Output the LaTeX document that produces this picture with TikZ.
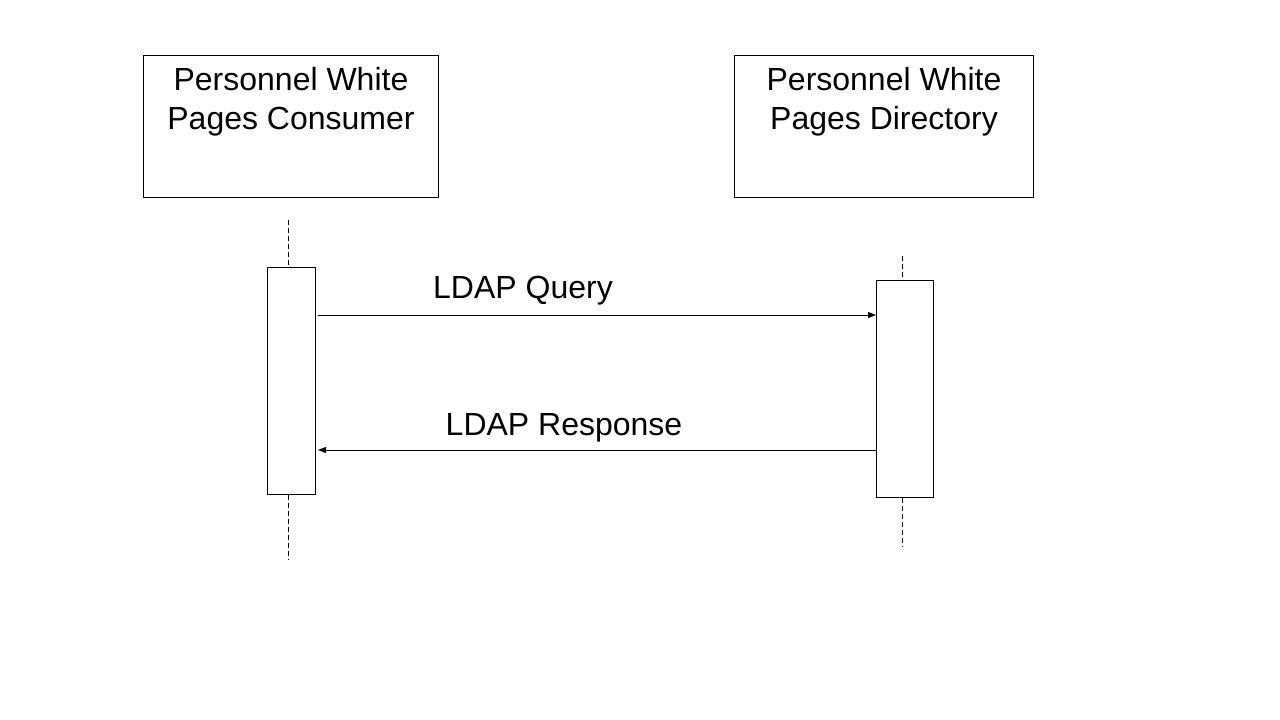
\documentclass[tikz,border=0pt]{standalone}
\usepackage{fontspec}
\setmainfont{Liberation Sans}
\usetikzlibrary{arrows.meta}
\begin{document}
\begin{tikzpicture}[x=1pt,y=-1pt,
  actor/.style={draw,line width=1pt,minimum width=#1,minimum height=142pt,anchor=north west,inner sep=0pt},
  activation/.style={draw,line width=1pt,anchor=north west,inner sep=0pt},
  title/.style={font=\fontsize{32}{39}\selectfont,align=center,anchor=north,inner sep=0pt},
  lifeline/.style={line width=1pt,dash pattern=on 5pt off 3pt},
  msg/.style={line width=1pt,-{Triangle[length=8pt,width=6pt]}},
  msglabel/.style={font=\fontsize{32}{39}\selectfont,anchor=base,inner sep=0pt}]
\useasboundingbox (0,0) rectangle (1280,720);
% actors
\node[actor=295pt] (cons) at (143,55) {};
\node[title] (consT) at ([yshift=-12pt]cons.north) {Personnel White\\Pages Consumer};
\node[actor=299pt] (dir) at (734,55) {};
\node[title] (dirT) at ([yshift=-12pt]dir.north) {Personnel White\\Pages Directory};
% activations
\node[activation,minimum width=48pt,minimum height=227pt] (actL) at (267,267) {};
\node[activation,minimum width=57pt,minimum height=217pt] (actR) at (876,280) {};
% lifelines
\coordinate (lTop) at (288,220);
\coordinate (lBot) at (288,560);
\coordinate (rTop) at (902,256);
\coordinate (rBot) at (902,547);
\draw[lifeline] (lTop) -- (lTop |- actL.north);
\draw[lifeline] (lBot |- actL.south) -- (lBot);
\draw[lifeline] (rTop) -- (rTop |- actR.north);
\draw[lifeline] (rBot |- actR.south) -- (rBot);
% messages
\coordinate (q1) at (318,315);
\coordinate (r2) at (318,450);
\draw[msg] (q1) -- (actR.west |- q1);
\draw[msg] (actR.west |- r2) -- (r2);
\node[msglabel] (qL) at (523,298) {LDAP Query};
\node[msglabel] (rL) at (564,435) {LDAP Response};
\end{tikzpicture}
\end{document}
